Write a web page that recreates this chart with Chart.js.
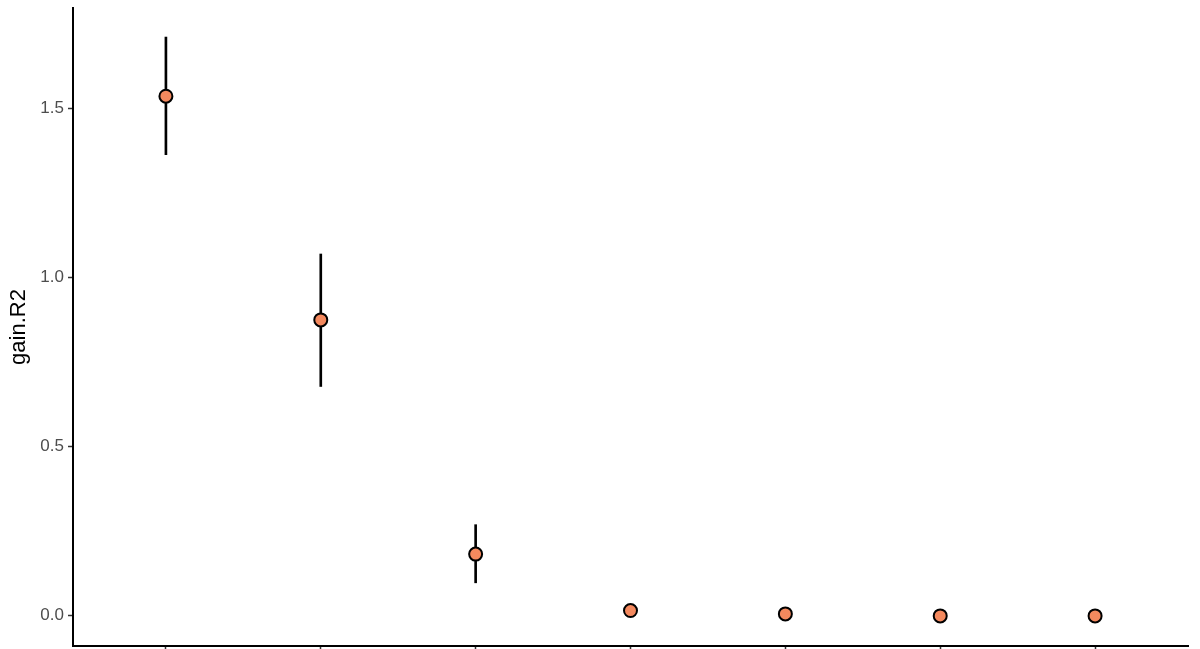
<!DOCTYPE html>
<html>
<head>
<meta charset="utf-8">
<script src="https://cdn.jsdelivr.net/npm/chart.js@4.4.1/dist/chart.umd.min.js"></script>
<style>
  html, body { margin: 0; padding: 0; background: #fff; overflow: hidden; }
  #wrap { width: 1200px; height: 649px; position: relative; }
</style>
</head>
<body>
<div id="wrap"><canvas id="chart"></canvas></div>
<script>
const categories = ['1', '2', '3', '4', '5', '6', '7'];
const gainR2 = [1.537, 0.875, 0.182, 0.015, 0.005, -0.001, -0.001];
const lower = [1.364, 0.678, 0.097, null, null, null, null];
const upper = [1.712, 1.070, 0.269, null, null, null, null];
const yTicks = [0.0, 0.5, 1.0, 1.5];

const points = categories.map((c, i) => ({ x: i + 1, y: gainR2[i] }));
const bars = categories
  .map((c, i) => ({ x: i + 1, y: [lower[i], upper[i]] }))
  .filter((d) => d.y[0] !== null);

new Chart(document.getElementById('chart'), {
  data: {
    datasets: [
      {
        type: 'bar',
        label: 'error',
        data: bars,
        backgroundColor: '#000',
        barThickness: 2,
        order: 2,
      },
      {
        type: 'scatter',
        label: 'gain.R2',
        data: points,
        backgroundColor: '#F4895E',
        borderColor: '#000',
        borderWidth: 2,
        pointRadius: 6.5,
        order: 1,
      },
    ],
  },
  options: {
    responsive: true,
    maintainAspectRatio: false,
    animation: false,
    layout: {
      autoPadding: false,
      padding: { left: 0, right: 12, top: 8, bottom: 0 },
    },
    scales: {
      x: {
        type: 'linear',
        min: 0.4,
        max: 7.6,
        offset: false,
        afterBuildTicks: (axis) => {
          axis.ticks = categories.map((c, i) => ({ value: i + 1 }));
        },
        afterFit: (scale) => {
          scale.height = 3;
          scale.paddingLeft = 0;
          scale.paddingRight = 0;
        },
        ticks: { display: false },
        grid: {
          offset: false,
          drawOnChartArea: false,
          drawTicks: true,
          tickLength: 5,
          color: '#333',
          tickWidth: 1.5,
        },
        border: { color: '#000', width: 2 },
      },
      y: {
        min: -0.09,
        max: 1.798,
        afterBuildTicks: (axis) => {
          axis.ticks = yTicks.map((v) => ({ value: v }));
        },
        afterFit: (scale) => {
          scale.width = 73;
          scale.paddingTop = 0;
          scale.paddingBottom = 0;
        },
        ticks: {
          callback: (v) => v.toFixed(1),
          color: '#4D4D4D',
          font: { family: 'Liberation Sans', size: 17 },
          padding: 4,
        },
        grid: {
          drawOnChartArea: false,
          drawTicks: true,
          tickLength: 5,
          color: '#333',
          tickWidth: 1.5,
        },
        border: { color: '#000', width: 2 },
        title: {
          display: true,
          text: 'gain.R2',
          color: '#000',
          font: { family: 'Liberation Sans', size: 22 },
          padding: { top: 6, bottom: 0 },
        },
      },
    },
    plugins: {
      legend: { display: false },
      tooltip: { enabled: false },
    },
  },
});
</script>
</body>
</html>
